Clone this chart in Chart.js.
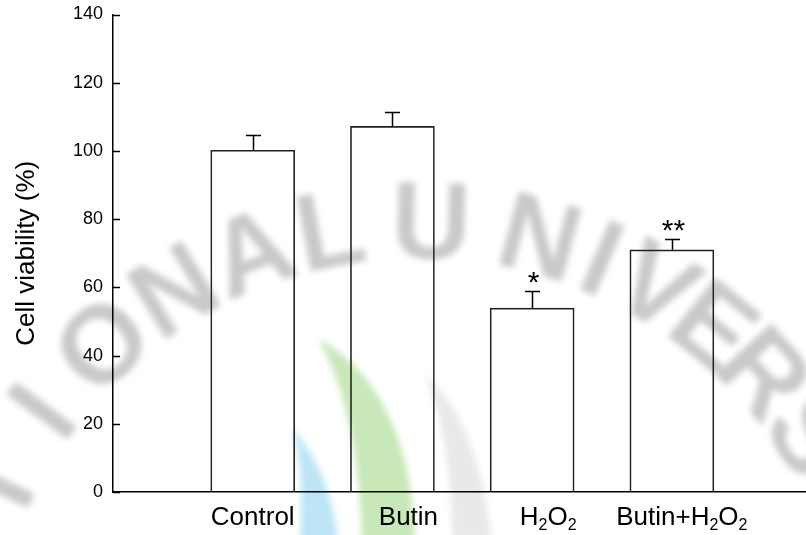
<!DOCTYPE html>
<html>
<head>
<meta charset="utf-8">
<script src="https://cdn.jsdelivr.net/npm/chart.js@4.4.1/dist/chart.umd.min.js"></script>
<style>
  html, body { margin: 0; padding: 0; background: #fff; }
</style>
</head>
<body>
<canvas id="viabilityChart" width="806" height="535"></canvas>
<script>
const groups = ["Control", "Butin", "H₂O₂", "Butin+H₂O₂"];
const viability = [100.2, 107.2, 53.9, 71.0];
const sem = [4.5, 4.2, 4.9, 3.2];
const marks = ["", "", "*", "**"];
const yTicks = [0, 20, 40, 60, 80, 100, 120, 140];

const SUBS = "₀₁₂₃₄₅₆₇₈₉";

// faint library watermark behind the plot
const watermark = {
    id: "watermark",
    beforeDraw(chart) {
        const ctx = chart.ctx;
        ctx.save();
        ctx.fillStyle = "#fff";
        ctx.fillRect(0, 0, chart.width, chart.height);
        ctx.filter = "blur(3px)";

        // logo crescents
        const shape = (color, pts) => {
            ctx.fillStyle = color;
            ctx.beginPath();
            ctx.moveTo(pts[0], pts[1]);
            ctx.quadraticCurveTo(pts[2], pts[3], pts[4], pts[5]);
            ctx.lineTo(pts[6], pts[7]);
            ctx.quadraticCurveTo(pts[8], pts[9], pts[0], pts[1]);
            ctx.fill();
        };
        shape("rgb(232,233,235)", [425, 375, 452, 440, 452, 540, 492, 540, 478, 420]);
        shape("rgb(190,228,247)", [292, 428, 305, 470, 300, 540, 338, 540, 330, 470]);
        shape("rgb(200,232,185)", [318, 338, 358, 410, 362, 540, 415, 540, 410, 390]);

        // arc lettering
        ctx.fillStyle = "rgba(0,0,0,0.21)";
        ctx.font = "bold 110px 'Liberation Sans', Arial, sans-serif";
        ctx.textAlign = "center";
        ctx.textBaseline = "middle";
        const cx = 419, cy = 690, r = 462;
        const letters = "ATIONALUNIVERS";
        const degs = [-165, -154, -143.5, -132.5, -121.5, -111, -101, -88.5, -75, -67, -59.5, -51, -42.5, -33];
        for (let i = 0; i < letters.length; i++) {
            const a = degs[i] * Math.PI / 180;
            ctx.save();
            ctx.translate(cx + r * Math.cos(a), cy + r * Math.sin(a));
            ctx.rotate(a + Math.PI / 2);
            ctx.fillText(letters[i], 0, 0);
            ctx.restore();
        }
        ctx.restore();
    }
};

// y ticks point inward, error bars, significance marks and x labels with subscripts
const decorations = {
    id: "decorations",
    afterDraw(chart) {
        const ctx = chart.ctx;
        const x = chart.scales.x;
        const y = chart.scales.y;
        const area = chart.chartArea;
        ctx.save();

        ctx.strokeStyle = "#000";
        ctx.lineWidth = 1.5;
        yTicks.forEach(t => {
            const py = Math.round(y.getPixelForValue(t)) + 0.5;
            ctx.beginPath();
            ctx.moveTo(area.left, py);
            ctx.lineTo(area.left + 7, py);
            ctx.stroke();
        });

        const meta = chart.getDatasetMeta(0);
        ctx.fillStyle = "#000";
        meta.data.forEach((bar, i) => {
            const top = y.getPixelForValue(viability[i]);
            const cap = y.getPixelForValue(viability[i] + sem[i]);
            const bx = Math.round(bar.x) + 0.5;
            ctx.beginPath();
            ctx.moveTo(bx, top);
            ctx.lineTo(bx, cap);
            ctx.moveTo(bx - 7.5, Math.round(cap) + 0.5);
            ctx.lineTo(bx + 7.5, Math.round(cap) + 0.5);
            ctx.stroke();
            if (marks[i]) {
                ctx.font = "30px 'Liberation Sans', Arial, sans-serif";
                ctx.textAlign = "center";
                ctx.textBaseline = "alphabetic";
                ctx.fillText(marks[i], bx + 1, cap + 1);
            }
        });

        const labelShift = [0, 16, 16, 10];
        const big = "26px 'Liberation Sans', Arial, sans-serif";
        const small = "16px 'Liberation Sans', Arial, sans-serif";
        ctx.textAlign = "left";
        ctx.textBaseline = "alphabetic";
        groups.forEach((g, i) => {
            const parts = [];
            for (const ch of g) {
                const k = SUBS.indexOf(ch);
                parts.push(k >= 0 ? { t: String(k), sub: true } : { t: ch, sub: false });
            }
            let total = 0;
            parts.forEach(p => {
                ctx.font = p.sub ? small : big;
                p.w = ctx.measureText(p.t).width;
                total += p.w;
            });
            let px = x.getPixelForValue(i + 1) + labelShift[i] - total / 2;
            const base = area.bottom + 33;
            parts.forEach(p => {
                ctx.font = p.sub ? small : big;
                ctx.fillText(p.t, px, p.sub ? base + 5 : base);
                px += p.w;
            });
        });
        ctx.restore();
    }
};

new Chart(document.getElementById("viabilityChart"), {
    type: "bar",
    data: {
        datasets: [{
            label: "Cell viability",
            data: viability.map((v, i) => ({ x: i + 1, y: v })),
            backgroundColor: "rgba(0,0,0,0)",
            borderColor: "#222",
            borderWidth: 1,
            barThickness: 84
        }]
    },
    options: {
        responsive: false,
        animation: false,
        devicePixelRatio: 1,
        layout: { padding: { top: 9, right: 0, bottom: 0, left: 0 } },
        plugins: {
            legend: { display: false },
            tooltip: { enabled: false }
        },
        scales: {
            x: {
                type: "linear",
                offset: false,
                min: 0,
                max: 4.96,
                grid: { display: false },
                border: { display: true, color: "#000", width: 1.5 },
                ticks: { display: false },
                afterFit: s => { s.height = 43; }
            },
            y: {
                min: 0,
                max: 140,
                afterBuildTicks: s => { s.ticks = yTicks.map(v => ({ value: v })); },
                grid: { display: false, drawTicks: false },
                border: { display: true, color: "#000", width: 1.5 },
                ticks: {
                    color: "#000",
                    padding: 10,
                    font: { family: "'Liberation Sans', Arial, sans-serif", size: 18, lineHeight: 0.5 }
                },
                title: {
                    display: true,
                    text: "Cell viability (%)",
                    color: "#000",
                    padding: { top: 11, bottom: 0 },
                    font: { family: "'Liberation Sans', Arial, sans-serif", size: 26 }
                },
                afterFit: s => { s.width = 113; }
            }
        }
    },
    plugins: [watermark, decorations]
});
</script>
</body>
</html>
